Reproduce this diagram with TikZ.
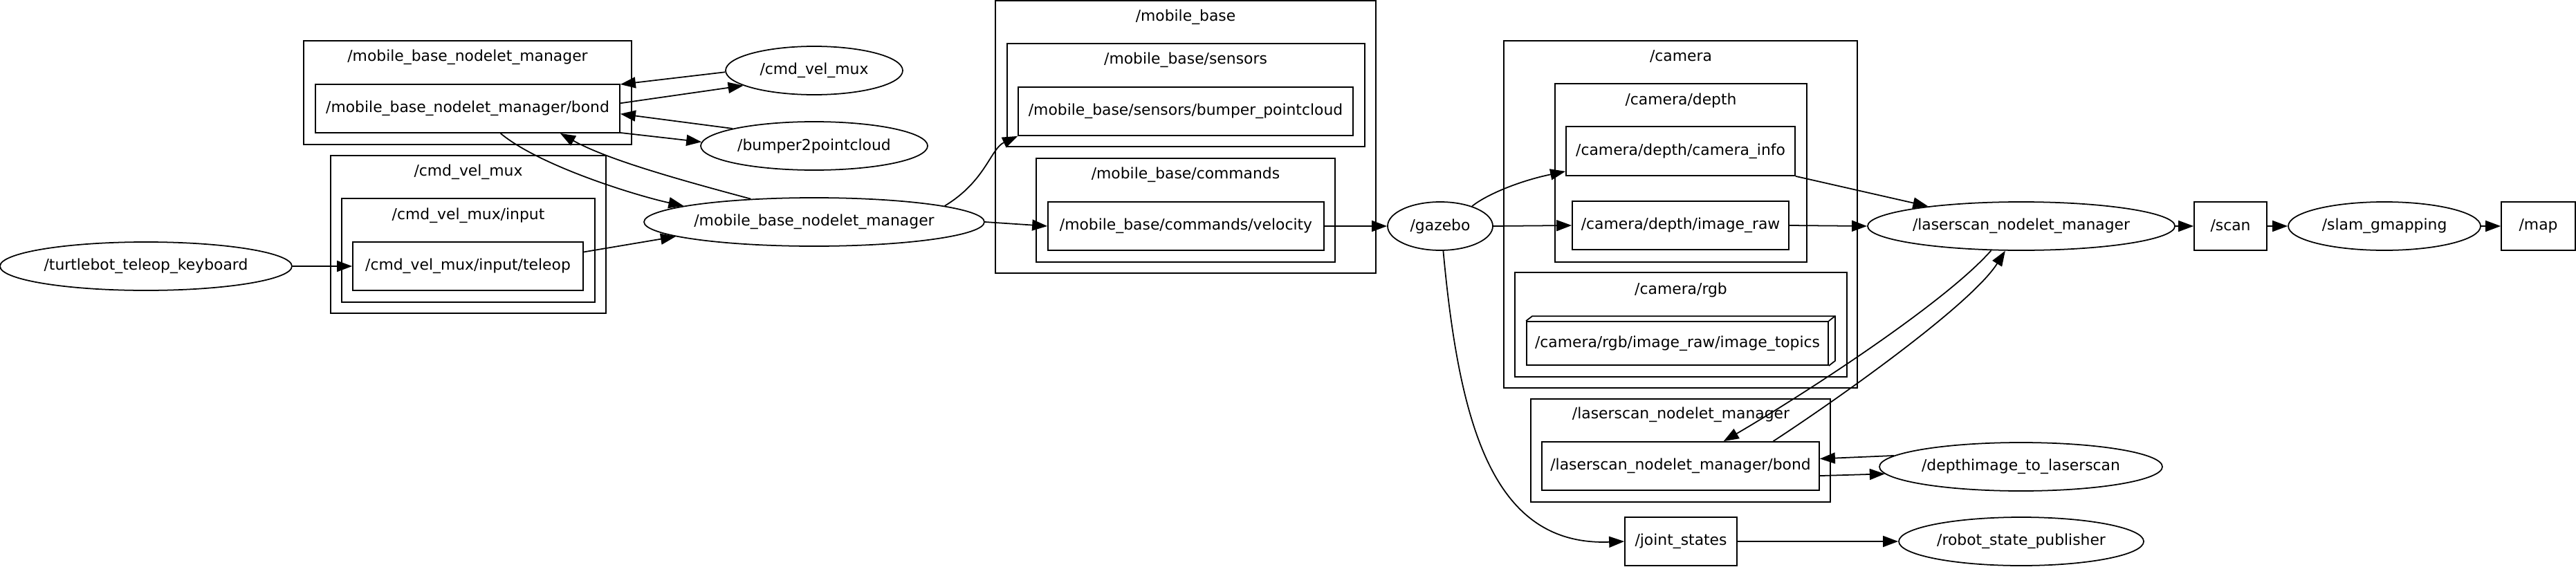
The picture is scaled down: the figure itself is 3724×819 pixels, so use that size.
\documentclass[tikz,border=0pt]{standalone}
\usepackage{fontspec}
\setmainfont{DejaVu Sans}
\usetikzlibrary{arrows.meta,shapes.geometric}
\begin{document}
\begin{tikzpicture}[x=0.1mm,y=-0.1mm,
  every node/.style={font=\fontsize{6.22pt}{7.5pt}\selectfont, inner sep=0pt},
  topic/.style={draw, rectangle, line width=0.5pt, minimum height=7mm},
  nodeell/.style={draw, ellipse, line width=0.5pt, minimum height=7mm},
  cluster/.style={draw, line width=0.5pt},
  arr/.style={line width=0.5pt, -{Triangle[length=2.2mm,width=1.6mm]}},
]
\useasboundingbox (0,0) rectangle (3724,819);

% clusters
\draw[cluster] (439,59) rectangle (913,209);
\node (l_mbnm) at (676,83) {/mobile\_base\_nodelet\_manager};
\draw[cluster] (478,225) rectangle (876,453);
\node (l_cvm) at (677,249) {/cmd\_vel\_mux};
\draw[cluster] (494,287) rectangle (860,437);
\node (l_cvmin) at (677,312) {/cmd\_vel\_mux/input};
\draw[cluster] (1439,1) rectangle (1989,395);
\node (l_mb) at (1714,25) {/mobile\_base};
\draw[cluster] (1456,63) rectangle (1973,212);
\node (l_mbs) at (1714,87) {/mobile\_base/sensors};
\draw[cluster] (1498,229) rectangle (1930,379);
\node (l_mbc) at (1714,253) {/mobile\_base/commands};
\draw[cluster] (2174,59) rectangle (2685,561);
\node (l_cam) at (2430,82) {/camera};
\draw[cluster] (2248,121) rectangle (2612,379);
\node (l_camd) at (2430,145) {/camera/depth};
\draw[cluster] (2190,394) rectangle (2670,545);
\node (l_camr) at (2430,419) {/camera/rgb};
\draw[cluster] (2213,577) rectangle (2646,726);
\node (l_lsnm) at (2430,600) {/laserscan\_nodelet\_manager};

% nodes
\node[nodeell, minimum width=42.2mm] (tk) at (211,385) {/turtlebot\_teleop\_keyboard};
\node[topic, minimum width=44mm] (bond) at (676,157) {/mobile\_base\_nodelet\_manager/bond};
\node[topic, minimum width=33.3mm] (teleop) at (676.5,385) {/cmd\_vel\_mux/input/teleop};
\node[nodeell, minimum width=25.6mm] (cvm) at (1177,102) {/cmd\_vel\_mux};
\node[nodeell, minimum width=32.8mm] (b2p) at (1177,211) {/bumper2pointcloud};
\node[nodeell, minimum width=49.2mm] (mbnm) at (1177,321) {/mobile\_base\_nodelet\_manager};
\node[topic, minimum width=48.4mm] (bpc) at (1714,161) {/mobile\_base/sensors/bumper\_pointcloud};
\node[topic, minimum width=39.9mm] (vel) at (1714.5,327) {/mobile\_base/commands/velocity};
\node[nodeell, minimum width=15.2mm] (gazebo) at (2082,327) {/gazebo};
\node[topic, minimum width=33.1mm, minimum height=7.1mm] (caminfo) at (2429.5,218.5) {/camera/depth/camera\_info};
\node[topic, minimum width=31.3mm] (imgraw) at (2429.5,326) {/camera/depth/image\_raw};
\node[topic, minimum width=43.6mm, minimum height=6.3mm] (imgtop) at (2425,496.5) {/camera/rgb/image\_raw/image\_topics};
\draw[line width=0.5pt] (imgtop.north west) -- ++(9,-7) -- ([shift={(9,-7)}]imgtop.north east) -- ([shift={(9,-7)}]imgtop.south east) -- (imgtop.south east);
\draw[line width=0.5pt] (imgtop.north east) -- ++(9,-7);
\node[topic, minimum width=40.1mm] (lsbond) at (2429.5,674) {/laserscan\_nodelet\_manager/bond};
\node[topic, minimum width=16.2mm] (js) at (2430,783) {/joint\_states};
\node[nodeell, minimum width=44mm] (lsnm) at (2922,327) {/laserscan\_nodelet\_manager};
\node[topic, minimum width=10.5mm] (scan) at (3224.5,327) {/scan};
\node[nodeell, minimum width=27.8mm] (slam) at (3447,327) {/slam\_gmapping};
\node[topic, minimum width=10.7mm] (map) at (3669.5,327) {/map};
\node[nodeell, minimum width=40.9mm] (depth) at (2921.5,675) {/depthimage\_to\_laserscan};
\node[nodeell, minimum width=35.4mm] (rsp) at (2922,783) {/robot\_state\_publisher};

% edges
\draw[arr] (tk.east) -- (teleop.west);
\draw[arr] (teleop.7.5) -- (mbnm.186.4);
\draw[arr] (bond.-37.9) .. controls (780,240) and (920,283) .. (mbnm.173.1);
\draw[arr] (mbnm.160.3) .. controls (990,262) and (880,232) .. (bond.-15.8);
\draw[arr] (cvm.181.3) -- (bond.9.46);
\draw[arr] (bond.2.86) -- (cvm.192.7);
\draw[arr] (b2p.168.1) -- (bond.-2.86);
\draw[arr] (bond.-9.46) -- (b2p.178.6);
\draw[arr] (mbnm.7.1) .. controls (1425,262) and (1432,215) .. (bpc.south west);
\draw[arr] (mbnm.east) -- (vel.west);
\draw[arr] (vel.east) -- (gazebo.west);
\draw[arr] (gazebo.32.8) .. controls (2148,282) and (2195,262) .. (caminfo.190.1);
\draw[arr] (gazebo.east) -- (imgraw.west);
\draw[arr] (caminfo.south east) -- (lsnm.168);
\draw[arr] (imgraw.east) -- (lsnm.west);
\draw[arr] (lsnm.219.3) .. controls (2810,440) and (2600,575) .. (lsbond.30.5);
\draw[arr] (lsbond.15.1) .. controls (2660,575) and (2850,440) .. (lsnm.237);
\draw[arr] (depth.175.8) -- (lsbond.3.7);
\draw[arr] (lsbond.-4) -- (depth.183.9);
\draw[arr] (gazebo.-83.5) .. controls (2110,620) and (2160,790) .. (js.west);
\draw[arr] (js.east) -- (rsp.west);
\draw[arr] (lsnm.east) -- (scan.west);
\draw[arr] (scan.east) -- (slam.west);
\draw[arr] (slam.east) -- (map.west);
\end{tikzpicture}
\end{document}
